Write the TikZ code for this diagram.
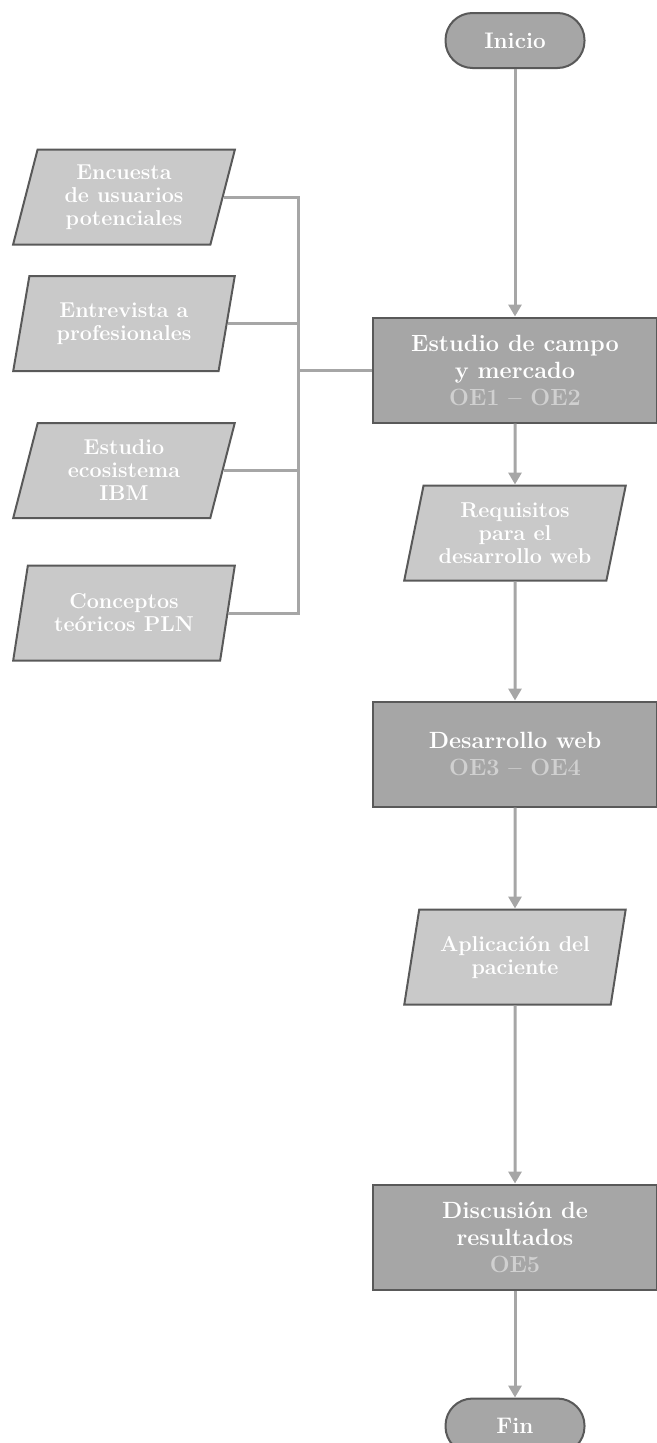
\documentclass[tikz,border=0pt]{standalone}
\usepackage{fontspec}
\usepackage{tikz}
\usetikzlibrary{positioning,shapes.geometric,arrows.meta,calc}
\definecolor{boxfill}{HTML}{A6A6A6}
\definecolor{datafill}{HTML}{C9C9C9}
\definecolor{edgegray}{HTML}{595959}
\definecolor{linkgray}{HTML}{A6A6A6}
\definecolor{oegray}{HTML}{D0D0D0}
\tikzset{
  term/.style={draw=edgegray, fill=boxfill, line width=2pt, rounded corners=27pt, minimum width=139pt, minimum height=55pt, text=white, font=\fontsize{22.5}{26}\selectfont\bfseries},
  stage/.style={draw=edgegray, fill=boxfill, line width=2pt, minimum width=284pt, minimum height=105pt, align=center, text=white, font=\fontsize{23.5}{27}\selectfont\bfseries},
  data/.style={trapezium, trapezium left angle=76, trapezium right angle=104, trapezium stretches=true, draw=edgegray, fill=datafill, line width=2pt, minimum width=222pt, minimum height=95pt, align=center, text=white, font=\fontsize{21.5}{23}\selectfont\bfseries},
  link/.style={draw=linkgray, line width=3pt},
}
\newcommand{\objtag}[1]{{\color{oegray}#1}}

\begin{document}
\begin{tikzpicture}[>={Triangle[width=13pt,length=12pt]}, x=1pt, y=1pt]
\useasboundingbox (0,0) rectangle (656,-1443);

% --- main column ---
\node (inicio) [term] at (515,-40.5) {Inicio};
\node (campo)  [stage, below=247.5pt of inicio] {Estudio de campo\\y mercado\\\objtag{OE1 -- OE2}};
\node (requis) [data,  below=61pt of campo]    {Requisitos\\para el\\desarrollo web};
\node (desweb) [stage, below=119pt of requis]  {Desarrollo web\\\objtag{OE3 -- OE4}};
\node (aplic)  [data,  below=101pt of desweb]  {Aplicación del\\paciente};
\node (discus) [stage, below=178pt of aplic]   {Discusión de\\resultados\\\objtag{OE5}};
\node (fin)    [term,  below=107pt of discus]  {Fin};

% --- inputs of the field study ---
\node (encuesta) [data] at (124,-197)   {Encuesta\\de usuarios\\potenciales};
\node (entrev)   [data] at (124,-323.5) {Entrevista a\\profesionales};
\node (ecosis)   [data] at (124,-470.5) {Estudio\\ecosistema\\IBM};
\node (concep)   [data] at (124,-613)   {Conceptos\\teóricos PLN};

% --- main downward arrows ---
\draw[link,->] (inicio) -- (campo);
\draw[link,->] (campo) -- (requis);
\draw[link,->] (requis) -- (desweb);
\draw[link,->] (desweb) -- (aplic);
\draw[link,->] (aplic) -- (discus);
\draw[link,->] (discus) -- (fin);

% --- collector bus into the field study ---
\coordinate (bus) at ($(campo.west)+(-74pt,0)$);
\draw[link] (encuesta.east) -| (bus);
\draw[link] (concep.east) -| (bus);
\draw[link] (entrev.east) -- (entrev.east -| bus);
\draw[link] (ecosis.east) -- (ecosis.east -| bus);
\draw[link] (bus) -- (campo.west);

\end{tikzpicture}
\end{document}
